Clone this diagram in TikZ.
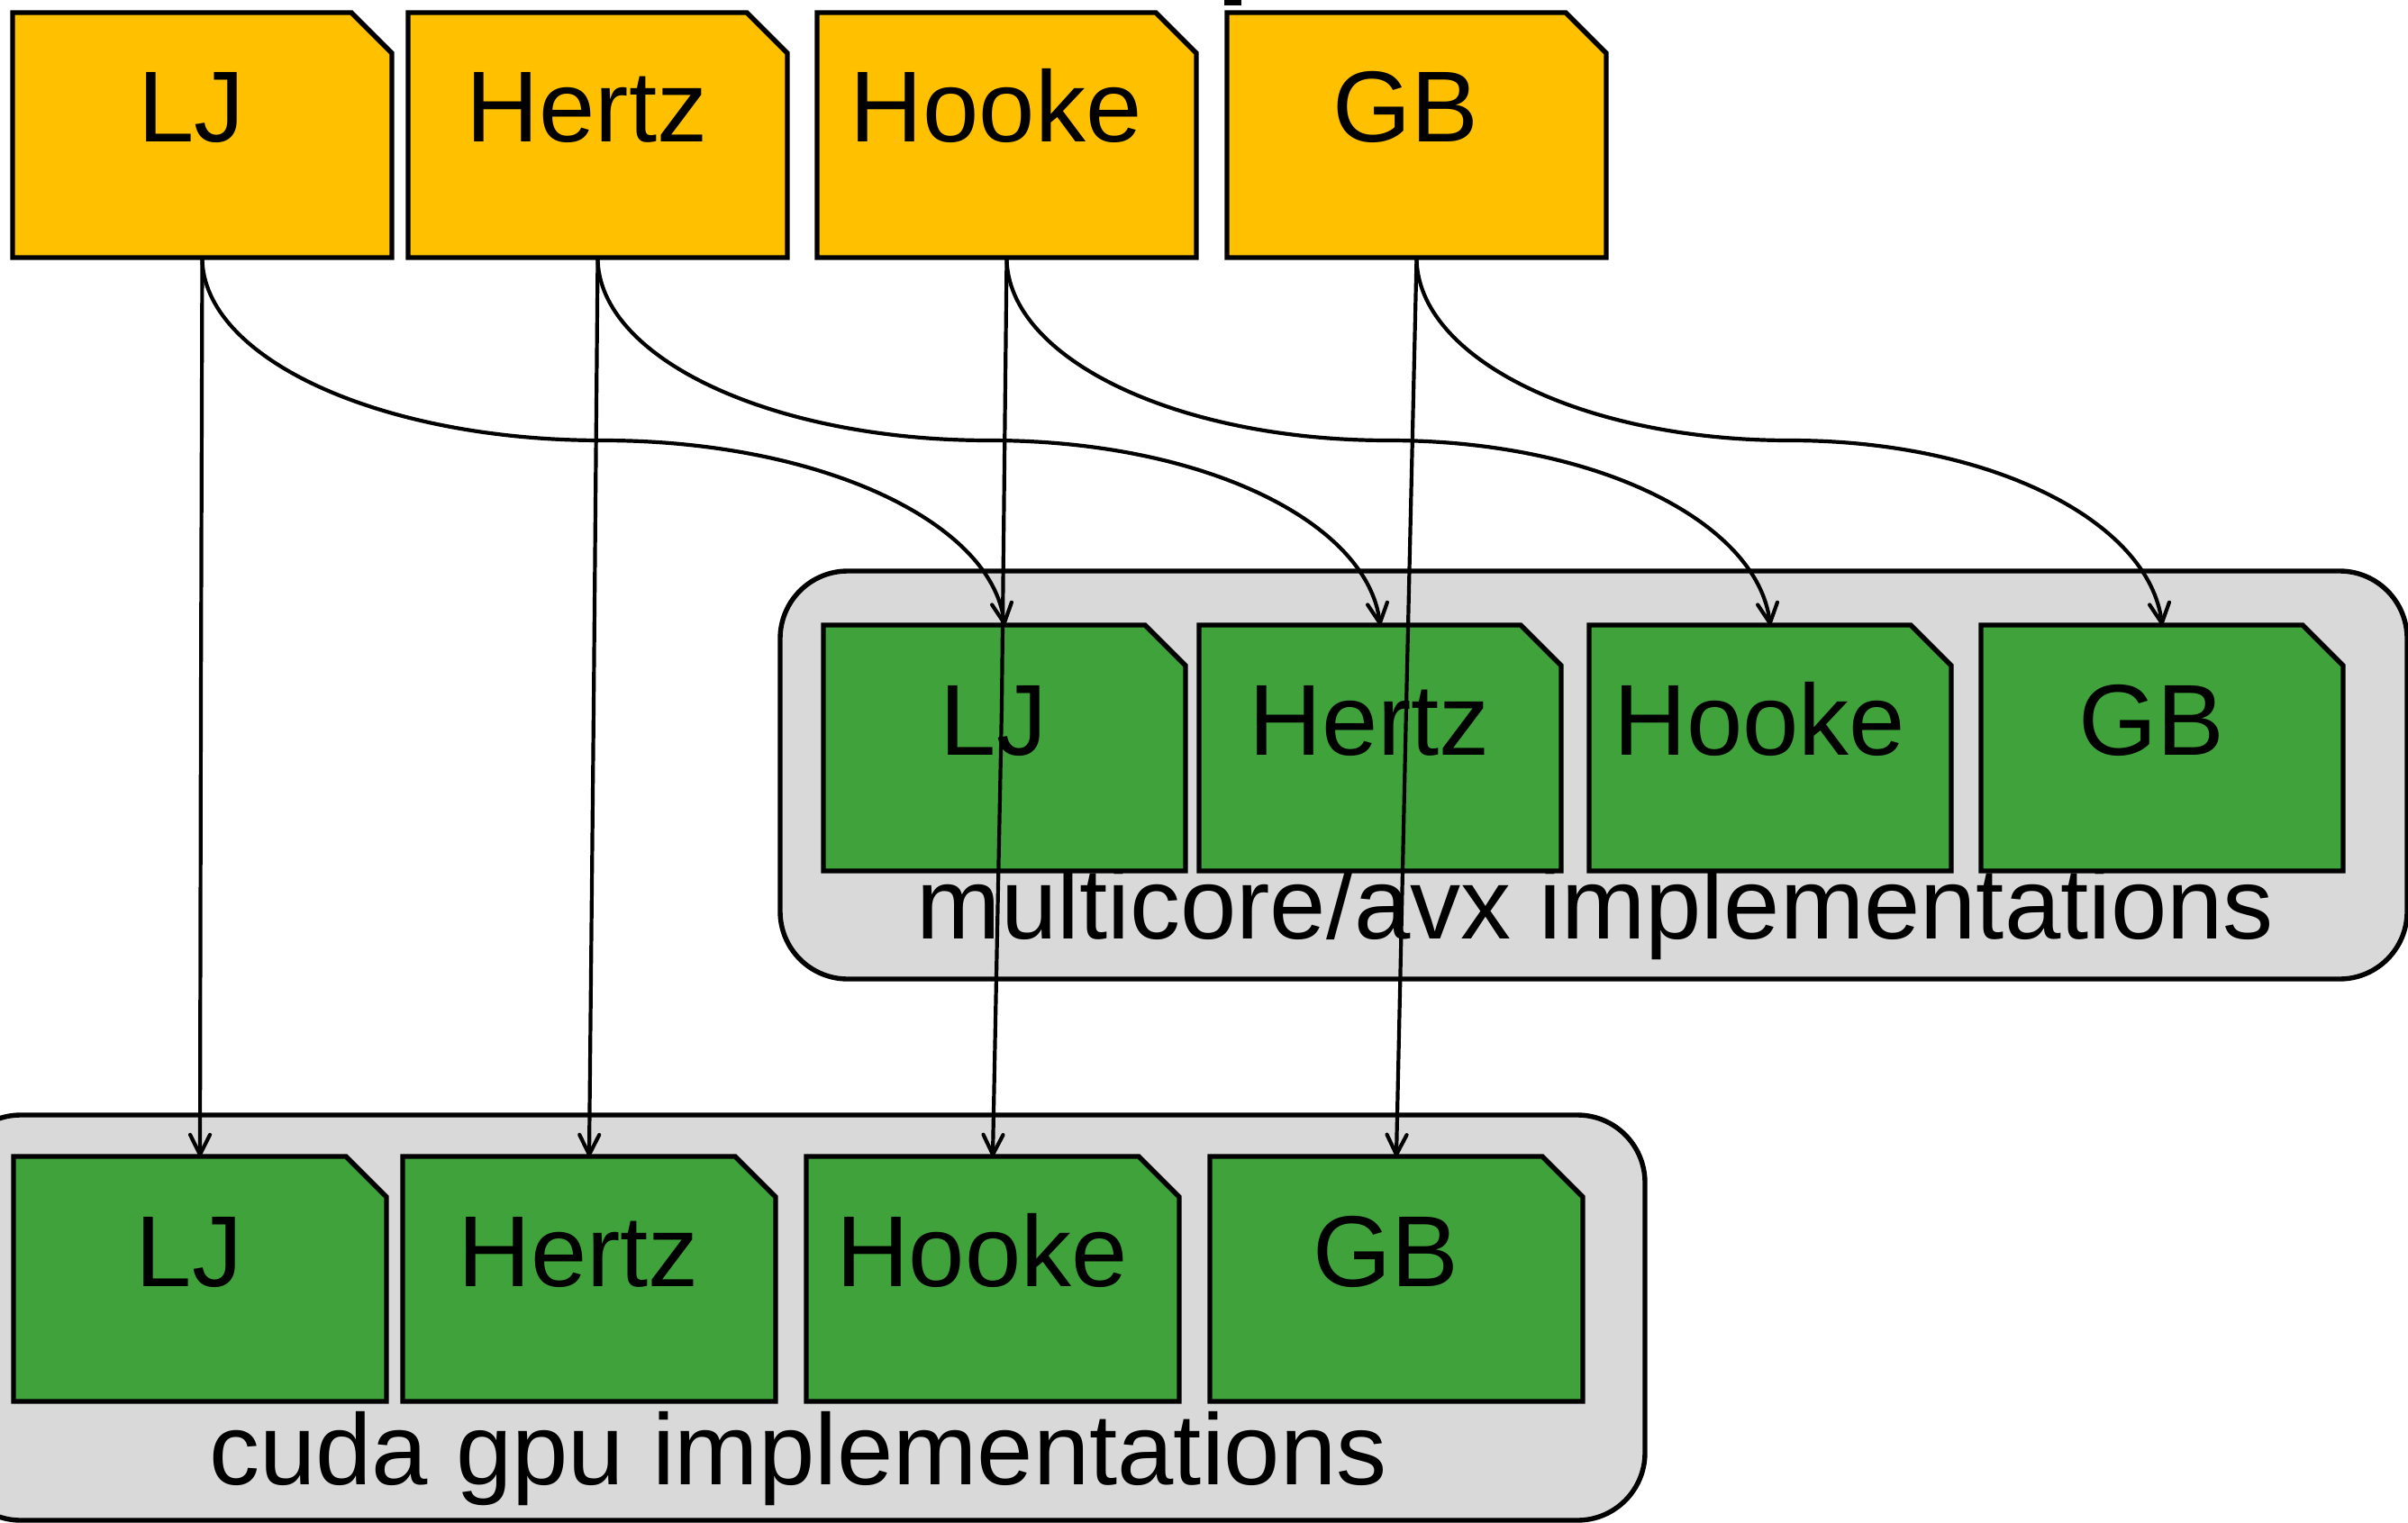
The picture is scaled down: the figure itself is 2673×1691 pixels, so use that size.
\documentclass[tikz,border=0pt]{standalone}
\usepackage{fontspec}
\setmainfont{Liberation Sans}
\usetikzlibrary{arrows.meta,calc}

\definecolor{srcgold}{RGB}{255,192,0}
\definecolor{implgreen}{RGB}{64,162,58}
\definecolor{groupgray}{RGB}{217,217,217}

\tikzset{
  boxline/.style={draw=black, line width=2.7pt, line join=miter},
  anchorbox/.style={rectangle, draw=none, inner sep=0pt, outer sep=0pt},
  kernellabel/.style={anchor=base, inner sep=0pt, font=\fontsize{56pt}{60pt}\selectfont},
  groupbox/.style={rectangle, draw=black, fill=groupgray, line width=2.7pt,
    rounded corners=37.5pt, inner sep=0pt, outer sep=0pt},
  grouplabel/.style={anchor=base, inner sep=0pt, font=\fontsize{56pt}{60pt}\selectfont},
  conn/.style={draw=black, line width=2.1pt,
    -{Straight Barb[length=11pt,width=11pt,line cap=round,line join=round]}}
}

% kernel box with a cut top-right corner: name, left, top, width, height, fill, label
\newcommand\kernelbox[7]{%
  \filldraw[fill=#6, boxline] (#2,#3) -- ({#2+#4-45},#3) -- ({#2+#4},{#3+45})
    -- ({#2+#4},{#3+#5}) -- (#2,{#3+#5}) -- cycle;
  \node[anchorbox, minimum width={#4*0.5pt}, minimum height={#5*0.5pt}]
    (#1) at ({#2+#4/2},{#3+#5/2}) {};
  \node[kernellabel] (#1-text) at ({#2+#4/2-12},{#3+144}) {#7};
}

\begin{document}
\begin{tikzpicture}[x=0.5pt,y=-0.5pt]
\useasboundingbox (0,0) rectangle (2673,1691);

% implementation groups
\node[groupbox, minimum width=903pt, minimum height=226.5pt] (multicore) at (1769,860.5) {};
\node[groupbox, minimum width=939pt, minimum height=225pt] (cuda) at (887,1463) {};
\node[grouplabel] (multicore-text) at (1771,1042) {multicore/avx implementations};
\node[grouplabel] (cuda-text) at (886,1648) {cuda gpu implementations};

% stroke end peeking in at the top edge
\fill[black] (1359,0) rectangle (1378,6);

% source kernels
\kernelbox{tLJ}{14}{14}{421}{272}{srcgold}{LJ}
\kernelbox{tHertz}{453}{14}{421}{272}{srcgold}{Hertz}
\kernelbox{tHooke}{907}{14}{421}{272}{srcgold}{Hooke}
\kernelbox{tGB}{1362}{14}{421}{272}{srcgold}{GB}

% multicore/avx kernels
\kernelbox{mLJ}{914}{694}{402}{273}{implgreen}{LJ}
\kernelbox{mHertz}{1331}{694}{402}{273}{implgreen}{Hertz}
\kernelbox{mHooke}{1764}{694}{402}{273}{implgreen}{Hooke}
\kernelbox{mGB}{2199}{694}{402}{273}{implgreen}{GB}

% cuda gpu kernels
\kernelbox{gLJ}{15}{1284}{414}{272}{implgreen}{LJ}
\kernelbox{gHertz}{447}{1284}{414}{272}{implgreen}{Hertz}
\kernelbox{gHooke}{895}{1284}{414}{272}{implgreen}{Hooke}
\kernelbox{gGB}{1343}{1284}{414}{272}{implgreen}{GB}

% turning points of the curved connectors
\coordinate (cLJ) at (668,489);
\coordinate (cHertz) at (1098,489);
\coordinate (cHooke) at (1541,489);
\coordinate (cGB) at (1986,489);

% bends of the straight connectors
\coordinate (kLJ) at (223,784);
\coordinate (kHertz) at (659,784);
\coordinate (kHooke) at (1112,784);
\coordinate (kGB) at (1561,784);

% straight connectors to the cuda kernels
\draw[conn] (tLJ.south) -- (kLJ) -- (gLJ.north);
\draw[conn] (tHertz.south) -- (kHertz) -- (gHertz.north);
\draw[conn] (tHooke.south) -- (kHooke) -- (gHooke.north);
\draw[conn] (tGB.south) -- (kGB) -- (gGB.north);

% curved connectors to the multicore kernels
\draw[conn] (tLJ.south) .. controls +(0,112) and +(-245,0) .. (cLJ)
  .. controls +(245,0) and +(-14,-113) .. (mLJ.north);
\draw[conn] (tHertz.south) .. controls +(0,112) and +(-240,0) .. (cHertz)
  .. controls +(240,0) and +(-14,-113) .. (mHertz.north);
\draw[conn] (tHooke.south) .. controls +(0,112) and +(-234,0) .. (cHooke)
  .. controls +(234,0) and +(-14,-113) .. (mHooke.north);
\draw[conn] (tGB.south) .. controls +(0,112) and +(-228,0) .. (cGB)
  .. controls +(228,0) and +(-14,-113) .. (mGB.north);
\end{tikzpicture}
\end{document}
